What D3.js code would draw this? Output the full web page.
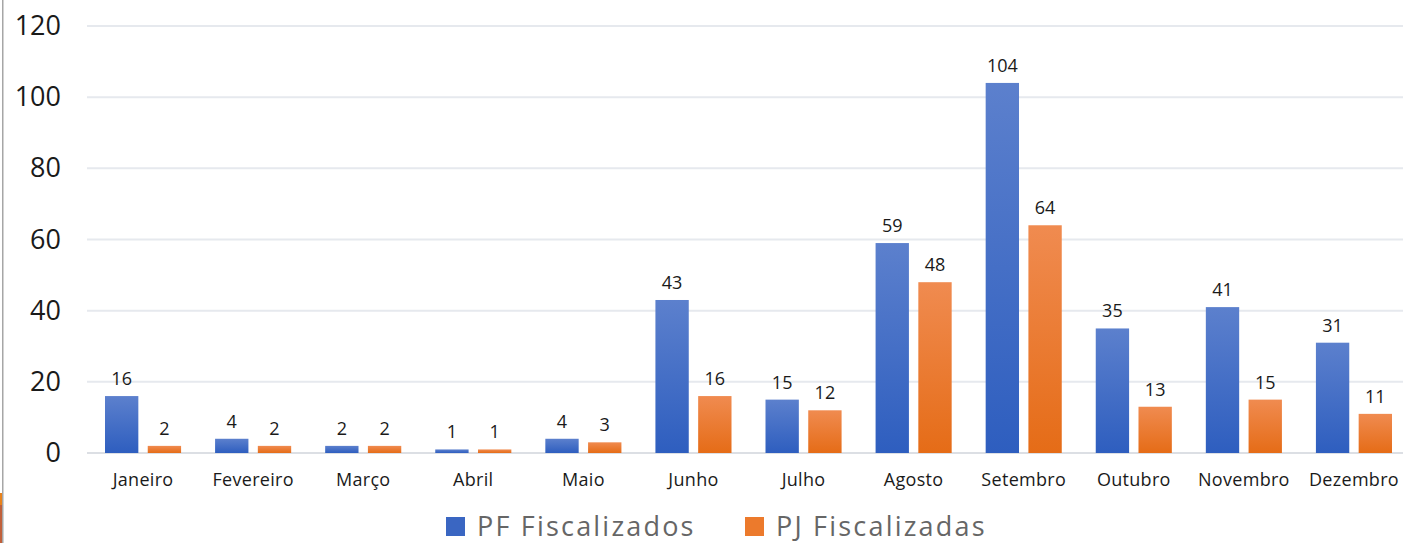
<!DOCTYPE html>
<html>
<head>
<meta charset="utf-8">
<script src="https://cdn.jsdelivr.net/npm/d3@7"></script>
<style>
body { margin: 0; background: #fff; }
svg { display: block; }
svg text { font-family: "Open Sans", "Noto Sans", sans-serif; }
</style>
</head>
<body>
<div id="chart"></div>
<script>
// data
var months = ["Janeiro", "Fevereiro", "Março", "Abril", "Maio", "Junho",
    "Julho", "Agosto", "Setembro", "Outubro", "Novembro", "Dezembro"];
var pfValues = [16, 4, 2, 1, 4, 43, 15, 59, 104, 35, 41, 31];
var pjValues = [2, 2, 2, 1, 3, 16, 12, 48, 64, 13, 15, 11];
var seriesNames = ["PF Fiscalizados", "PJ Fiscalizadas"];
var yTicks = [0, 20, 40, 60, 80, 100, 120];

var width = 1403, height = 543;

var svg = d3.select("#chart")
    .append("svg")
    .attr("width", width)
    .attr("height", height);

// gradients
var defs = svg.append("defs");
function gradient(id, top, bottom) {
    var g = defs.append("linearGradient")
        .attr("id", id)
        .attr("x1", 0).attr("y1", 0).attr("x2", 0).attr("y2", 1);
    g.append("stop").attr("offset", "0%").attr("stop-color", top);
    g.append("stop").attr("offset", "100%").attr("stop-color", bottom);
}
gradient("gradBlue", "#5c80cd", "#2e5ebf");
gradient("gradOrange", "#f08b50", "#e56c17");
var fills = ["url(#gradBlue)", "url(#gradOrange)"];
var legendColors = ["#3a66c2", "#ec7a2c"];

// frame on the left edge
svg.append("rect").attr("x", 2).attr("y", 0).attr("width", 1.5).attr("height", height).attr("fill", "#a6a6a6");
svg.append("rect").attr("x", 0).attr("y", 493).attr("width", 2).attr("height", 12).attr("fill", "#e8821c");
svg.append("rect").attr("x", 0).attr("y", 505).attr("width", 2).attr("height", 38).attr("fill", "#c0603a");

var x_scale = d3.scaleBand()
    .domain(months)
    .range([88, 1409]);

var x_inner = d3.scaleBand()
    .domain([0, 1])
    .range([17, x_scale.bandwidth() - 17])
    .paddingInner(0.22);

var y_scale = d3.scaleLinear()
    .domain([0, 120])
    .range([453, 26]);

// gridlines
svg.append("g")
    .selectAll("line")
    .data(yTicks)
    .enter()
    .append("line")
    .attr("x1", 87)
    .attr("x2", width)
    .attr("y1", function (d) { return y_scale(d); })
    .attr("y2", function (d) { return y_scale(d); })
    .attr("stroke", function (d) { return d === 0 ? "#dcdfe4" : "#e6e9ee"; })
    .attr("stroke-width", 2);

// y axis
var y_axis = d3.axisLeft(y_scale).tickValues(yTicks).tickSize(0).tickPadding(0);
var yg = svg.append("g")
    .attr("transform", "translate(61,0)")
    .call(y_axis)
    .attr("font-family", null);
yg.select(".domain").remove();
yg.selectAll("text")
    .style("font-size", "27px")
    .attr("fill", "#1a1a1a");

// x axis
var x_axis = d3.axisBottom(x_scale).tickSize(0).tickPadding(0);
var xg = svg.append("g")
    .attr("transform", "translate(0,473)")
    .call(x_axis)
    .attr("font-family", null);
xg.select(".domain").remove();
xg.selectAll("text")
    .style("font-size", "18px")
    .style("letter-spacing", "0.3px")
    .attr("fill", "#1a1a1a");

// bars
var rows = months.map(function (m, i) {
    return { month: m, values: [pfValues[i], pjValues[i]] };
});

var groups = svg.selectAll(".group")
    .data(rows)
    .enter()
    .append("g")
    .attr("class", "group")
    .attr("transform", function (d) { return "translate(" + x_scale(d.month) + ",0)"; });

groups.selectAll("rect")
    .data(function (d) { return d.values; })
    .enter()
    .append("rect")
    .attr("x", function (d, i) { return x_inner(i); })
    .attr("width", x_inner.bandwidth())
    .attr("y", function (d) { return y_scale(d); })
    .attr("height", function (d) { return y_scale(0) - y_scale(d); })
    .attr("fill", function (d, i) { return fills[i]; });

groups.selectAll("text")
    .data(function (d) { return d.values; })
    .enter()
    .append("text")
    .attr("x", function (d, i) { return x_inner(i) + x_inner.bandwidth() / 2; })
    .attr("y", function (d) { return y_scale(d) - 11; })
    .attr("text-anchor", "middle")
    .style("font-size", "18px")
    .attr("fill", "#1a1a1a")
    .text(function (d) { return d; });

// legend
var legendX = [446, 745];
var legend = svg.selectAll(".legend")
    .data(seriesNames)
    .enter()
    .append("g")
    .attr("class", "legend")
    .attr("transform", function (d, i) { return "translate(" + legendX[i] + ",517)"; });

legend.append("rect")
    .attr("width", 19)
    .attr("height", 19)
    .attr("fill", function (d, i) { return legendColors[i]; });

legend.append("text")
    .attr("x", 31)
    .attr("y", 19)
    .style("font-size", "27px")
    .style("letter-spacing", "2.2px")
    .attr("fill", "#666666")
    .text(function (d) { return d; });
</script>
</body>
</html>
